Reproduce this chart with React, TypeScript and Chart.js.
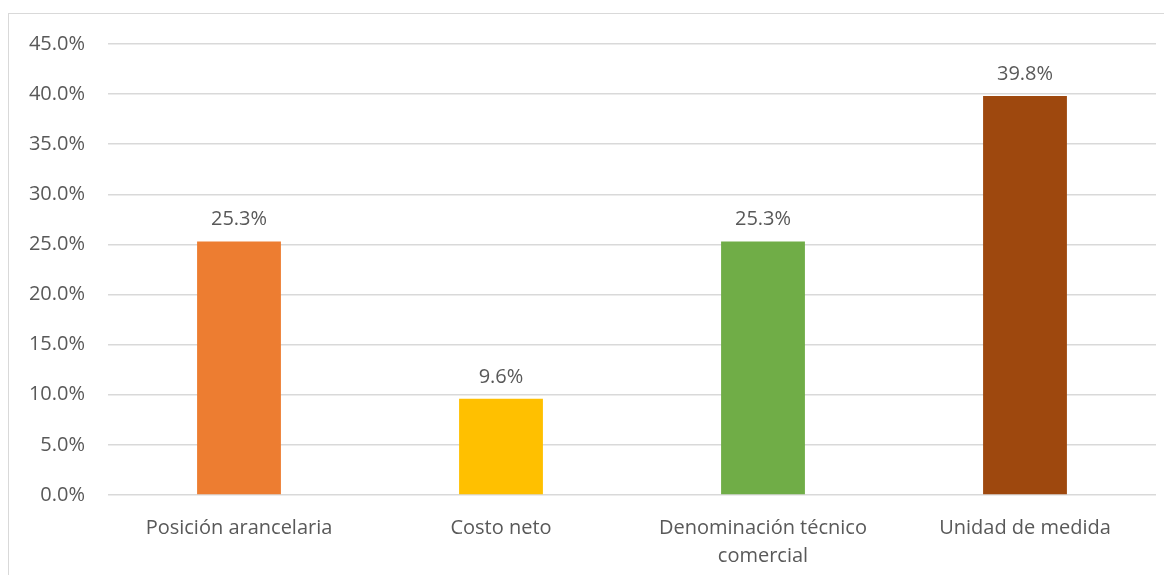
import React, { useEffect, useRef } from "react";
import { Chart, registerables } from "chart.js";

Chart.register(...registerables);

const categories: (string | string[])[] = [
  "Posición arancelaria",
  "Costo neto",
  ["Denominación técnico", "comercial"],
  "Unidad de medida",
];
const values: number[] = [25.3, 9.6, 25.3, 39.8];
const barColors: string[] = ["#ED7D31", "#FFC000", "#70AD47", "#9E480E"];
const yTicks: number[] = [0, 5, 10, 15, 20, 25, 30, 35, 40, 45];

const FONT = "'Open Sans', sans-serif";
const TEXT = "#595959";

const valueLabels = {
  id: "valueLabels",
  afterDatasetsDraw(chart: any) {
    const ctx = chart.ctx;
    const meta = chart.getDatasetMeta(0);
    ctx.save();
    ctx.font = `20px ${FONT}`;
    ctx.fillStyle = TEXT;
    ctx.textAlign = "center";
    ctx.textBaseline = "alphabetic";
    meta.data.forEach((bar: any, i: number) => {
      ctx.fillText(values[i].toFixed(1) + "%", bar.x, bar.y - 16);
    });
    ctx.restore();
  },
};

export default function App() {
  const ref = useRef<HTMLCanvasElement | null>(null);
  useEffect(() => {
    if (!ref.current) return;
    const chart = new Chart(ref.current, {
      type: "bar",
      data: {
        labels: categories,
        datasets: [
          {
            data: values,
            backgroundColor: barColors,
            barPercentage: 0.32,
            categoryPercentage: 1,
          },
        ],
      },
      options: {
        animation: false,
        responsive: false,
        maintainAspectRatio: false,
        layout: { padding: { top: 30, right: 16, left: 0, bottom: 0 } },
        plugins: { legend: { display: false }, tooltip: { enabled: false } },
        scales: {
          x: {
            grid: { display: false, drawTicks: false },
            border: { display: false },
            ticks: {
              color: TEXT,
              font: { family: FONT, size: 20, lineHeight: 1.4 },
              padding: 19,
              maxRotation: 0,
              autoSkip: false,
            },
            afterFit(scale: any) {
              scale.height = 80;
            },
          },
          y: {
            min: 0,
            max: 45,
            afterBuildTicks(scale: any) {
              scale.ticks = yTicks.map((v) => ({ value: v }));
            },
            grid: { color: "#d9d9d9", lineWidth: 1.5, drawTicks: false },
            border: { display: false },
            ticks: {
              color: TEXT,
              font: { family: FONT, size: 20 },
              padding: 23,
              callback: (v: any) => Number(v).toFixed(1) + "%",
            },
            afterFit(scale: any) {
              scale.width = 99;
              scale.paddingTop = 0;
              scale.paddingBottom = 0;
            },
          },
        },
      },
      plugins: [valueLabels],
    });
    return () => chart.destroy();
  }, []);
  return (
    <div
      style={{
        marginTop: 5,
        width: 1164,
        height: 562,
        borderTop: "1px solid #d9d9d9",
        borderLeft: "1px solid #d9d9d9",
        overflow: "hidden",
      }}
    >
      <canvas ref={ref} width={1163} height={561} style={{ display: "block" }} />
    </div>
  );
}
